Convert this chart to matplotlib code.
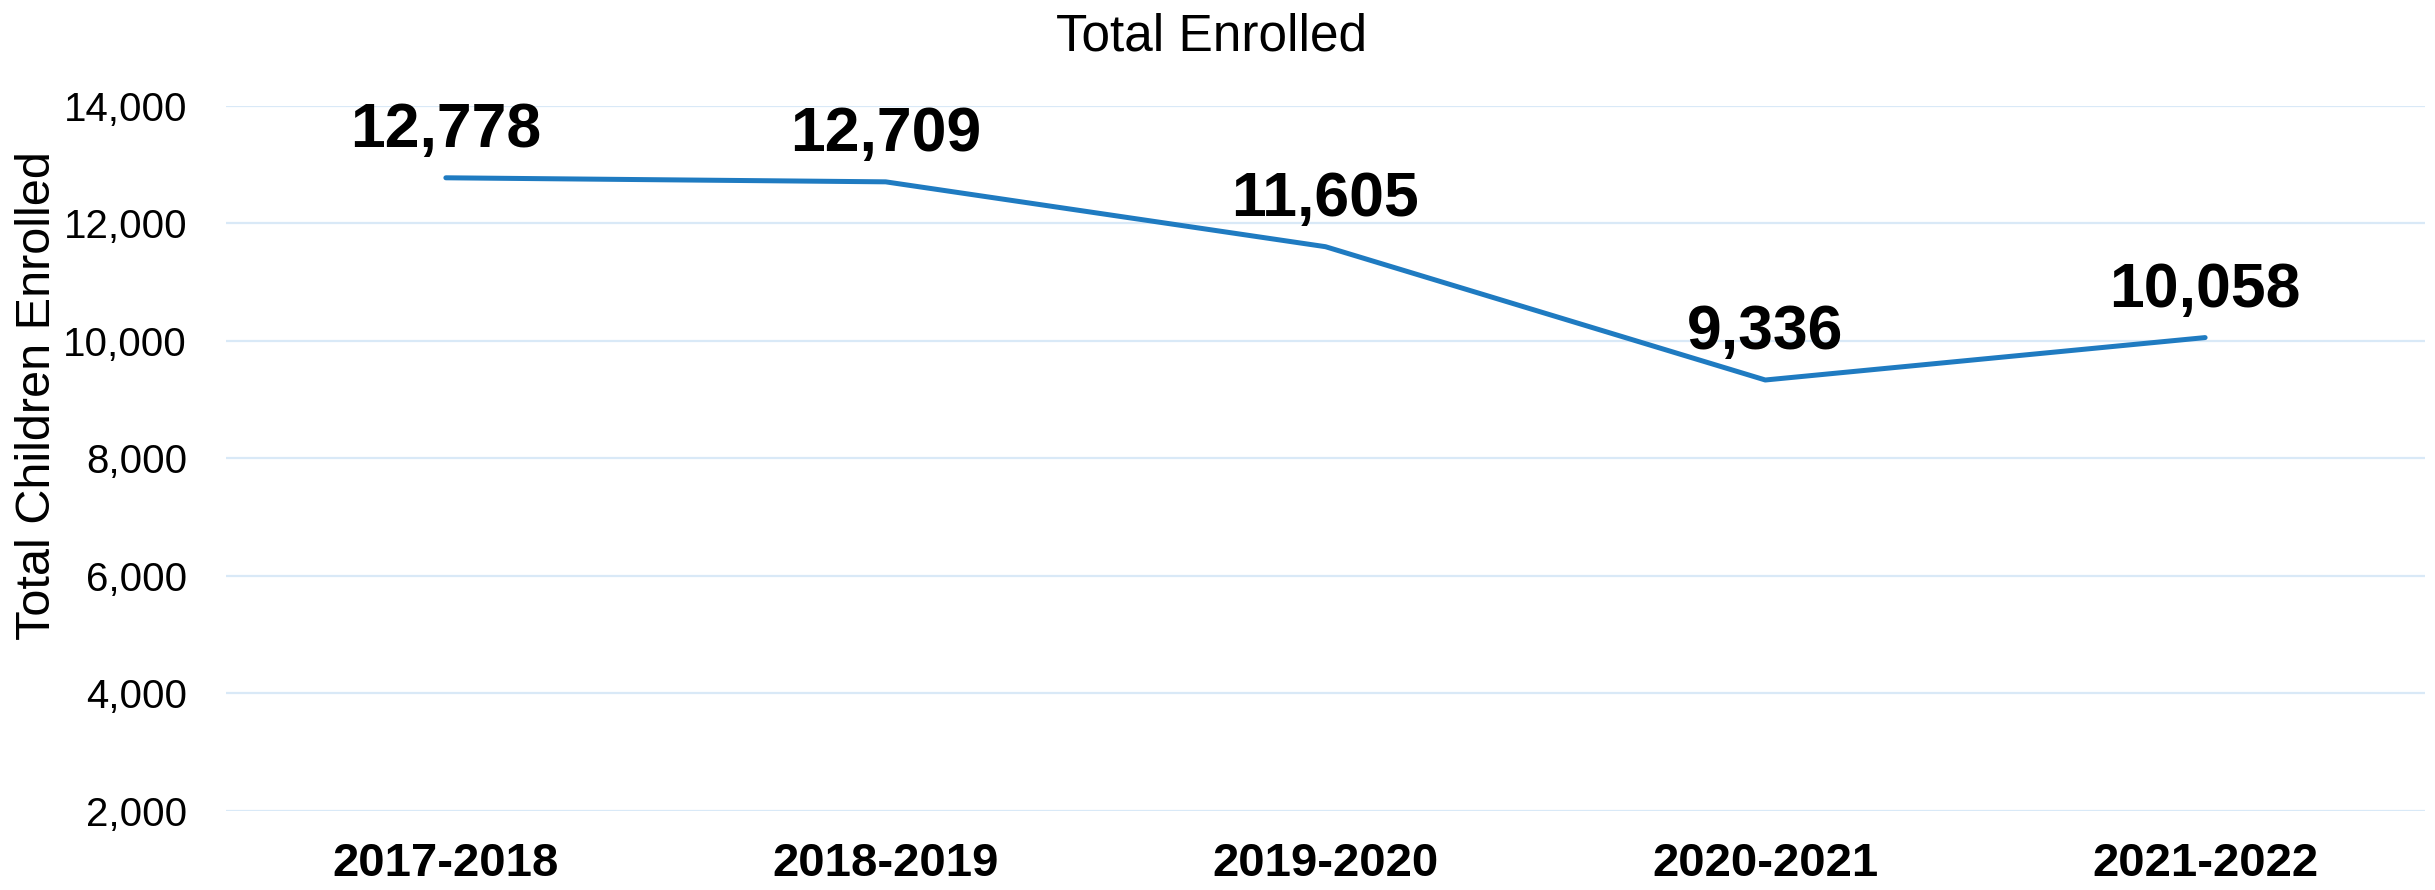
"""Total enrolled children per school year, line chart with value labels."""

import matplotlib
matplotlib.use("Agg")
from matplotlib import pyplot as plt
from matplotlib.ticker import FuncFormatter

# dados
years = ["2017-2018", "2018-2019", "2019-2020", "2020-2021", "2021-2022"]
enrolled = [12778, 12709, 11605, 9336, 10058]
y_ticks = [2000, 4000, 6000, 8000, 10000, 12000, 14000]

LINE_COLOR = "#1f7bc1"
GRID_COLOR = "#d9e9f7"

plt.rcParams["font.family"] = ["Liberation Sans", "DejaVu Sans"]

fig = plt.figure(figsize=(24.35, 8.9), dpi=100)
fig.patch.set_facecolor("white")
ax = fig.add_axes([0.0928, 0.0888, 0.9031, 0.7921])

x = list(range(len(years)))
ax.plot(x, enrolled, color=LINE_COLOR, linewidth=3.6, solid_capstyle="round", zorder=3)

# rótulos de valor acima de cada ponto
for xi, v in zip(x, enrolled):
    ax.annotate(f"{v:,}", (xi, v), xytext=(0, 22), textcoords="offset points",
                ha="center", va="baseline", fontsize=45, fontweight="bold", zorder=4)

ax.set_xlim(-0.5, 4.5)
ax.set_ylim(2000, 14000)
ax.set_xticks(x)
ax.set_xticklabels(years, fontsize=34, fontweight="bold")
ax.set_yticks(y_ticks)
ax.yaxis.set_major_formatter(FuncFormatter(lambda v, _: f"{int(v):,}"))
ax.tick_params(axis="y", labelsize=29, length=0, pad=28)
ax.tick_params(axis="x", length=0, pad=22)

ax.grid(axis="y", color=GRID_COLOR, linewidth=1.6, zorder=0)
ax.set_axisbelow(True)
for spine in ax.spines.values():
    spine.set_visible(False)

fig.text(0.4975, 0.9438, "Total Enrolled", ha="center", va="baseline", fontsize=37)
fig.text(0.0205, 0.555, "Total Children Enrolled", ha="center", va="baseline",
         rotation=90, rotation_mode="anchor", fontsize=35)

fig.savefig("out.png", dpi=100, facecolor="white")
plt.close(fig)
